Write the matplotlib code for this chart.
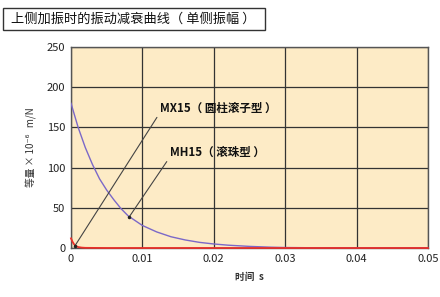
import matplotlib
matplotlib.use("Agg")
import matplotlib.pyplot as plt
from matplotlib.patches import Rectangle

plt.rcParams['font.family'] = ['Noto Sans CJK SC', 'DejaVu Sans']

# Data
t_mh = [0.0, 0.001, 0.002, 0.003, 0.004, 0.005, 0.006, 0.007, 0.008, 0.009, 0.010,
        0.012, 0.014, 0.016, 0.018, 0.020, 0.022, 0.025, 0.028, 0.030, 0.035, 0.040, 0.050]
v_mh = [180, 150, 125, 104, 86, 72, 60, 49, 40, 34, 28,
        20, 14, 10, 7, 5, 3.5, 2, 1, 0.6, 0.2, 0.1, 0.0]
t_mx = [0.0, 0.0002, 0.0004, 0.0006, 0.0008, 0.001, 0.0015, 0.002, 0.005, 0.05]
v_mx = [12, 8, 5, 3, 2, 1.2, 0.5, 0.2, 0.0, 0.0]

xticks = [0, 0.01, 0.02, 0.03, 0.04, 0.05]
xticklabels = ['0', '0.01', '0.02', '0.03', '0.04', '0.05']
yticks = [0, 50, 100, 150, 200, 250]

title = '上侧加振时的振动减衰曲线（ 单侧振幅 ）'
label_mx = 'MX15（ 圆柱滚子型 ）'
label_mh = 'MH15（ 滚珠型 ）'

fig = plt.figure(figsize=(4.4, 2.97), dpi=100)
ax = fig.add_axes([71/440, 1-248/297, 357/440, 201/297])
ax.set_facecolor('#FDEBC6')
ax.plot(t_mh, v_mh, color='#7B68C8', lw=1.0, zorder=3)
ax.plot(t_mx, v_mx, color='#E8302A', lw=1.3, zorder=4, clip_on=False)
ax.set_xlim(0, 0.05)
ax.set_ylim(0, 250)
ax.set_xticks(xticks)
ax.set_xticklabels(xticklabels)
ax.set_yticks(yticks)
ax.grid(True, color='#333333', lw=0.9)
ax.set_axisbelow(True)
ax.tick_params(length=0, labelsize=8, colors='#222222', pad=4)
for s in ax.spines.values():
    s.set_color('#555555')
    s.set_linewidth(1.0)
    s.set_zorder(2)

ax.set_xlabel('时间  s', fontsize=7, labelpad=6, fontweight='bold', color='#333333')
ax.set_ylabel('等量 × 10⁻⁶   m/N', fontsize=7, labelpad=7, color='#333333')

ax.annotate(label_mx, xy=(0.0005, 2), xytext=(0.0124, 174), fontsize=8.3,
            fontweight='bold', va='center', ha='left', color='#111111',
            arrowprops=dict(arrowstyle='-', color='#444444', lw=0.8,
                            shrinkA=0, shrinkB=0, relpos=(0, 0.1)), zorder=5)
ax.plot([0.0005], [2], 'o', color='#222222', ms=1.5, zorder=6)
ax.annotate(label_mh, xy=(0.0081, 38), xytext=(0.0138, 119), fontsize=8.3,
            fontweight='bold', va='center', ha='left', color='#111111',
            arrowprops=dict(arrowstyle='-', color='#444444', lw=0.8,
                            shrinkA=0, shrinkB=0, relpos=(0, 0.1)), zorder=5)
ax.plot([0.0081], [38], 'o', color='#222222', ms=1.5, zorder=6)

fig.text(11/440, 1-19/297, title, fontsize=9.5, va='center', ha='left',
         color='#111111', fontweight='medium')
fig.patches.append(Rectangle((3/440, 1-30/297), 262/440, 22/297, transform=fig.transFigure,
                             fill=False, edgecolor='#333333', lw=1.0))

fig.savefig('out.png', dpi=100)
